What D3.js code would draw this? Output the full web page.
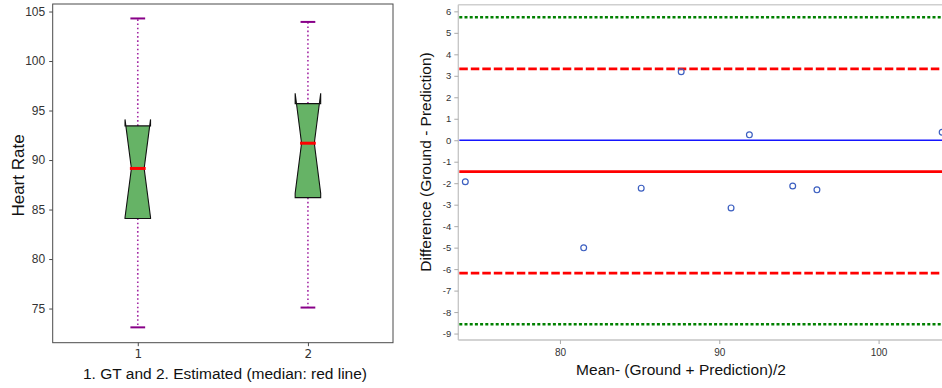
<!DOCTYPE html>
<html><head><meta charset="utf-8">
<script src="https://cdn.jsdelivr.net/npm/d3@7"></script>
<style>
html,body{margin:0;padding:0;background:#fff;}
svg{display:block;font-family:"Liberation Sans",Arial,sans-serif;}
</style></head>
<body><svg id="c" width="942" height="388"></svg>
<script>
// ---- Left: notched box plot data ----
const boxLabels = ["1", "2"];
const boxPositions = [1, 2];
const whiskerLow = [73.1, 75.1];
const q1 = [84.1, 86.2];
const median = [89.15, 91.7];
const q3 = [93.45, 95.7];
const whiskerHigh = [104.3, 103.95];
const notchLow = [84.2, 86.65];
const notchHigh = [94.1, 96.75];
const leftYTicks = [75, 80, 85, 90, 95, 100, 105];

// ---- Right: Bland-Altman data ----
const meanVals = [74.06, 81.49, 85.10, 87.61, 90.74, 91.89, 94.61, 96.13, 103.99];
const diffVals = [-1.93, -5.01, -2.23, 3.19, -3.15, 0.25, -2.13, -2.31, 0.37];
const zeroLine = 0;
const meanDiff = -1.46;
const loaUpper = 3.32, loaLower = -6.19;
const sd3Upper = 5.73, sd3Lower = -8.57;
const rightYTicks = [-9,-8,-7,-6,-5,-4,-3,-2,-1,0,1,2,3,4,5,6];
const rightXTicks = [80, 90, 100];

const svg = d3.select("#c");

// ================= LEFT =================
const L = {x0: 52.7, x1: 393, y0: 4, y1: 342.7};
const lx = d3.scaleLinear().domain([0.5, 2.5]).range([L.x0, L.x1]);
const ly = d3.scaleLinear().domain([71.55, 105.76]).range([L.y1, L.y0]);
const lg = svg.append("g");

const boxW = 0.15;
boxPositions.forEach((p, i) => {
  const bl = lx(p - boxW/2), br = lx(p + boxW/2);
  const wl = lx(p - boxW/4), wr = lx(p + boxW/4);
  const cl = lx(p - boxW/4), cr = lx(p + boxW/4);
  const cx = lx(p);
  // whiskers
  lg.append("line").attr("x1", cx).attr("x2", cx).attr("y1", ly(q1[i])).attr("y2", ly(whiskerLow[i]))
    .attr("stroke", "#a42aa4").attr("stroke-width", 1.6).attr("stroke-dasharray", "1.6,2.6");
  lg.append("line").attr("x1", cx).attr("x2", cx).attr("y1", ly(q3[i])).attr("y2", ly(whiskerHigh[i]))
    .attr("stroke", "#a42aa4").attr("stroke-width", 1.6).attr("stroke-dasharray", "1.6,2.6");
  // caps
  [whiskerLow[i], whiskerHigh[i]].forEach(v => {
    lg.append("line").attr("x1", cl - 1).attr("x2", cr + 1).attr("y1", ly(v)).attr("y2", ly(v))
      .attr("stroke", "#880088").attr("stroke-width", 2);
  });
  // notched box
  const pts = [
    [bl, ly(q1[i])], [bl, ly(notchLow[i])], [wl, ly(median[i])], [bl, ly(notchHigh[i])], [bl, ly(q3[i])],
    [br, ly(q3[i])], [br, ly(notchHigh[i])], [wr, ly(median[i])], [br, ly(notchLow[i])], [br, ly(q1[i])]
  ];
  lg.append("path").attr("d", d3.line()(pts) + "Z")
    .attr("fill", "#66b366").attr("stroke", "#111").attr("stroke-width", 1.1).attr("stroke-linejoin", "miter");
  // median
  lg.append("line").attr("x1", wl - 1.5).attr("x2", wr + 1.5).attr("y1", ly(median[i])).attr("y2", ly(median[i]))
    .attr("stroke", "#ff0000").attr("stroke-width", 3);
});

// frame
lg.append("rect").attr("x", L.x0).attr("y", L.y0).attr("width", L.x1 - L.x0).attr("height", L.y1 - L.y0)
  .attr("fill", "none").attr("stroke", "#4a4a4a").attr("stroke-width", 1);

const lyAxis = lg.append("g").attr("transform", `translate(${L.x0},0)`)
  .call(d3.axisLeft(ly).tickValues(leftYTicks).tickSize(3.5).tickPadding(4));
lyAxis.select(".domain").remove();
lyAxis.selectAll("line").attr("stroke", "#4a4a4a");
lyAxis.selectAll("text").attr("fill", "#333").style("font-size", "12px").style("font-family", '"Liberation Sans",Arial,sans-serif');

const lxAxis = lg.append("g").attr("transform", `translate(0,${L.y1})`)
  .call(d3.axisBottom(lx).tickValues(boxPositions).tickFormat((d, i) => boxLabels[i]).tickSize(3.5).tickPadding(3));
lxAxis.select(".domain").remove();
lxAxis.selectAll("line").attr("stroke", "#4a4a4a");
lxAxis.selectAll("text").attr("fill", "#333").style("font-size", "12px").style("font-family", '"DejaVu Sans",sans-serif');

lg.append("text").attr("x", 225).attr("y", 379).attr("text-anchor", "middle")
  .style("font-size", "15.5px").attr("fill", "#111").text("1. GT and 2. Estimated (median: red line)");
lg.append("text").attr("transform", "translate(24,175.5) rotate(-90)").attr("text-anchor", "middle")
  .style("font-size", "17px").attr("fill", "#111").text("Heart Rate");

// ================= RIGHT =================
const R = {x0: 458.3, x1: 942, y0: 4.7, y1: 340};
const rx = d3.scaleLinear().domain([73.62, 103.98]).range([R.x0, R.x1]);
const ry = d3.scaleLinear().domain([-9.3, 6.31]).range([R.y1, R.y0]);
const rg = svg.append("g");

// frame (left, bottom, top)
rg.append("line").attr("x1", R.x0).attr("x2", 950).attr("y1", R.y0).attr("y2", R.y0).attr("stroke", "#cfcfcf").attr("stroke-width", 1.5);
rg.append("line").attr("x1", R.x0).attr("x2", R.x0).attr("y1", R.y0).attr("y2", R.y1).attr("stroke", "#c4c4c4").attr("stroke-width", 1.3);
rg.append("line").attr("x1", R.x0).attr("x2", 950).attr("y1", R.y1).attr("y2", R.y1).attr("stroke", "#c4c4c4").attr("stroke-width", 1.3);

const hline = (v, color, w, dash) => {
  const l = rg.append("line").attr("x1", R.x0 + 1).attr("x2", 950).attr("y1", ry(v)).attr("y2", ry(v))
    .attr("stroke", color).attr("stroke-width", w);
  if (dash) l.attr("stroke-dasharray", dash);
};
hline(sd3Upper, "#008000", 2.5, "3,2.2");
hline(sd3Lower, "#008000", 2.5, "3,2.2");
hline(loaUpper, "#ff0000", 2.8, "8.5,3");
hline(loaLower, "#ff0000", 2.8, "8.5,3");
hline(zeroLine, "#1515ff", 1.6, null);
hline(meanDiff, "#ff0000", 2.6, null);

rg.selectAll("circle.pt").data(meanVals.map((m, i) => [m, diffVals[i]])).enter().append("circle")
  .attr("class", "pt").attr("cx", d => rx(d[0])).attr("cy", d => ry(d[1])).attr("r", 2.9)
  .attr("fill", "none").attr("stroke", "#3c5fc0").attr("stroke-width", 1.2);

const ryAxis = rg.append("g").attr("transform", `translate(${R.x0},0)`)
  .call(d3.axisLeft(ry).tickValues(rightYTicks).tickFormat(d => String(d)).tickSize(4).tickPadding(3));
ryAxis.select(".domain").remove();
ryAxis.selectAll("line").attr("stroke", "#aaa");
ryAxis.selectAll("text").attr("fill", "#333").style("font-size", "9.5px").style("font-family", '"Liberation Sans",Arial,sans-serif');

const rxAxis = rg.append("g").attr("transform", `translate(0,${R.y1})`)
  .call(d3.axisBottom(rx).tickValues(rightXTicks).tickSize(4).tickPadding(5));
rxAxis.select(".domain").remove();
rxAxis.selectAll("line").attr("stroke", "#aaa");
rxAxis.selectAll("text").attr("fill", "#333").style("font-size", "10px").style("font-family", '"Liberation Sans",Arial,sans-serif');

rg.append("text").attr("x", 681).attr("y", 375).attr("text-anchor", "middle")
  .style("font-size", "15.5px").attr("fill", "#111").text("Mean- (Ground + Prediction)/2");
rg.append("text").attr("transform", "translate(431,162) rotate(-90)").attr("text-anchor", "middle")
  .style("font-size", "15.5px").attr("fill", "#111").text("Difference (Ground - Prediction)");
</script></body></html>
